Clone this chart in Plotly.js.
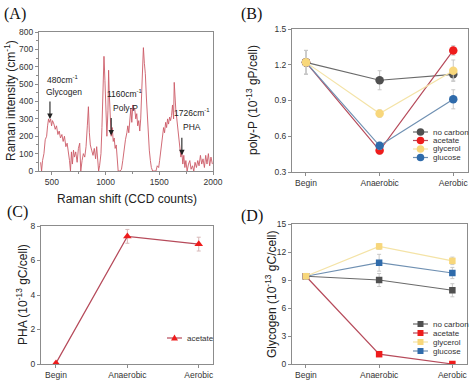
<!DOCTYPE html>
<html><head><meta charset="utf-8">
<script src="https://cdn.plot.ly/plotly-3.0.1.min.js"></script>
<style>html,body{margin:0;padding:0;background:#fff;}#chart{width:471px;height:382px;}</style>
</head><body><div id="chart"></div>
<script>
// ---- Panel A: Raman spectrum ----
const ramanShift = [395,404,413,426,438,451,460,469,478,488,497,506,519,531,543,556,568,580,593,605,617,630,642,654,664,673,682,691,701,710,722,735,747,759,769,781,793,806,818,830,840,849,858,870,883,895,907,917,926,935,944,957,966,975,985,994,1003,1012,1022,1028,1034,1043,1052,1062,1071,1080,1089,1099,1108,1117,1136,1148,1160,1173,1185,1198,1207,1216,1225,1235,1244,1253,1262,1271,1281,1290,1299,1309,1318,1327,1336,1346,1352,1361,1370,1380,1389,1398,1407,1417,1426,1438,1457,1469,1481,1494,1503,1512,1522,1531,1540,1549,1559,1568,1577,1586,1596,1605,1614,1623,1633,1639,1645,1654,1663,1673,1682,1691,1701,1710,1719,1728,1738,1747,1759,1772,1784,1796,1809,1821,1833,1846,1858,1870,1883,1895,1907,1920,1932,1944,1957,1969,1981,1994];
const ramanIntensity = [50,0,60,100,180,200,260,300,280,300,260,290,270,240,260,210,230,190,210,170,200,140,160,110,60,0,110,40,120,80,110,50,130,160,0,60,100,80,140,260,370,220,150,120,90,130,70,140,60,0,30,100,250,480,660,520,300,200,350,580,450,280,200,250,170,190,130,150,60,0,0,10,60,130,180,220,260,220,300,360,280,380,350,360,300,330,260,290,230,300,450,620,710,620,560,420,300,200,120,60,20,0,0,0,30,20,60,110,170,210,250,220,280,250,300,270,310,290,320,380,300,510,420,350,300,230,170,140,80,110,40,90,20,60,0,40,60,10,30,0,50,20,60,30,90,40,70,20,90,40,100,30,80,40];
const peakLabels = ['480cm<sup>-1</sup>','1160cm<sup>-1</sup>','1726cm<sup>-1</sup>'];
const peakNames = ['Glycogen','Poly-P','PHA'];
const peakArrowX = [482,1052,1710];
const peakArrowY = [300,205,90];

// ---- Panels B-D ----
const stages = ['Begin','Anaerobic','Aerobic'];
const carbonSources = ['no carbon','acetate','glycerol','glucose'];
const polyP_noCarbon = [1.22,1.07,1.12];
const polyP_acetate  = [1.22,0.48,1.32];
const polyP_glycerol = [1.22,0.79,1.15];
const polyP_glucose  = [1.22,0.52,0.91];
const polyPErr_noCarbon = [0.10,0.08,0.05];
const polyPErr_acetate  = [0.10,0.03,0.04];
const polyPErr_glycerol = [0.10,0.03,0.09];
const polyPErr_glucose  = [0.10,0.03,0.08];
const pha_acetate = [0.05,7.4,6.95];
const phaErr_acetate = [0.05,0.4,0.4];
const glycogen_noCarbon = [9.4,9.0,7.9];
const glycogen_acetate  = [9.4,1.05,0.0];
const glycogen_glycerol = [9.4,12.6,11.05];
const glycogen_glucose  = [9.4,10.85,9.75];
const glyErr_noCarbon = [0.3,0.7,0.7];
const glyErr_acetate  = [0.3,0.2,0.1];
const glyErr_glycerol = [0.3,0.3,0.4];
const glyErr_glucose  = [0.3,0.9,0.6];

const W = 471, H = 382;
const px = v => v / W, py = v => 1 - v / H;
const lineCols = ['#6a6a6a','#b64a5a','#f4e3a6','#6f90b2'];
const markCols = ['#505050','#ee1c1c','#f8d77b','#2f6bab'];
const drawOrder = [0, 1, 3, 2];
const FONT = 'Liberation Sans, Arial, sans-serif';
const tickFont = {family: FONT, size: 8.5, color: '#333'};

const polyP = [polyP_noCarbon, polyP_acetate, polyP_glycerol, polyP_glucose];
const polyPErr = [polyPErr_noCarbon, polyPErr_acetate, polyPErr_glycerol, polyPErr_glucose];
const glyco = [glycogen_noCarbon, glycogen_acetate, glycogen_glycerol, glycogen_glucose];
const glycoErr = [glyErr_noCarbon, glyErr_acetate, glyErr_glycerol, glyErr_glucose];

const traces = [];
traces.push({x: ramanShift, y: ramanIntensity, type: 'scatter', mode: 'lines',
  line: {color: '#cc5a66', width: 0.9}, xaxis: 'x', yaxis: 'y', showlegend: false, hoverinfo: 'skip'});

drawOrder.forEach(i => {
  traces.push({x: stages, y: polyP[i], name: carbonSources[i], type: 'scatter', mode: 'lines+markers',
    xaxis: 'x2', yaxis: 'y2', showlegend: false,
    line: {color: lineCols[i], width: 1.2},
    marker: {symbol: 'circle', size: 8.5, color: markCols[i]},
    error_y: {type: 'data', array: polyPErr[i], visible: true, color: '#c8c8c8', thickness: 1, width: 2}});
});
traces.push({x: stages, y: pha_acetate, name: 'acetate', type: 'scatter', mode: 'lines+markers',
  xaxis: 'x3', yaxis: 'y3', showlegend: false,
  line: {color: lineCols[1], width: 1.2},
  marker: {symbol: 'triangle-up', size: 7.5, color: markCols[1]},
  error_y: {type: 'data', array: phaErr_acetate, visible: true, color: '#d8b8b8', thickness: 1, width: 2}});
drawOrder.forEach(i => {
  traces.push({x: stages, y: glyco[i], name: carbonSources[i], type: 'scatter', mode: 'lines+markers',
    xaxis: 'x4', yaxis: 'y4', showlegend: false,
    line: {color: lineCols[i], width: 1.2},
    marker: {symbol: 'square', size: 6.5, color: markCols[i]},
    error_y: {type: 'data', array: glycoErr[i], visible: true, color: '#c8c8c8', thickness: 1, width: 2}});
});

function ax(extra) {
  return Object.assign({showline: true, mirror: true, linecolor: '#8c8c8c', linewidth: 1,
    ticks: 'outside', ticklen: 3, tickcolor: '#8c8c8c', zeroline: false, showgrid: false,
    tickfont: tickFont, fixedrange: true}, extra);
}

const annotations = [];
const shapes = [];
// panel labels
[['(A)',2,14],['(B)',239,14],['(C)',5,212],['(D)',239,216]].forEach(([t,x,y]) => {
  annotations.push({text: t, xref: 'paper', yref: 'paper', x: px(x), y: py(y), xanchor: 'left', yanchor: 'middle',
    showarrow: false, font: {family: 'Liberation Serif, Times New Roman, serif', size: 16, color: '#111'}});
});
// axis titles
const titleFont = {family: FONT, size: 12, color: '#222'};
annotations.push({text: 'Raman shift (CCD counts)', xref: 'paper', yref: 'paper', x: px(127), y: py(199),
  xanchor: 'center', yanchor: 'middle', showarrow: false, font: titleFont});
[['Raman intensity (cm<sup>-1</sup>)',10,101],['poly-P (10<sup>-13</sup> gP/cell)',252,100],
 ['PHA (10<sup>-13</sup> gC/cell)',22,295],['Glycogen (10<sup>-13</sup> gC/cell)',271,294]].forEach(([t,x,y]) => {
  annotations.push({text: t, xref: 'paper', yref: 'paper', x: px(x), y: py(y), textangle: -90,
    xanchor: 'center', yanchor: 'middle', showarrow: false, font: titleFont});
});
// peak annotations on panel A
const annFont = {family: FONT, size: 8.5, color: '#222'};
const labelPos = [[435,526,429,452],[994,446,1052,362],[1614,336,1700,252]];
peakLabels.forEach((t, i) => {
  const [x1,y1,x2,y2] = labelPos[i];
  annotations.push({text: t, xref: 'x', yref: 'y', x: x1, y: y1, xanchor: 'left', yanchor: 'middle', showarrow: false, font: annFont});
  annotations.push({text: peakNames[i], xref: 'x', yref: 'y', x: x2, y: y2, xanchor: 'left', yanchor: 'middle', showarrow: false, font: annFont});
  annotations.push({text: '', xref: 'x', yref: 'y', x: peakArrowX[i], y: peakArrowY[i], ax: 0, ay: -19,
    showarrow: true, arrowhead: 2, arrowsize: 1, arrowwidth: 1.1, arrowcolor: '#222'});
});
// manual compact legends
const legFont = {family: FONT, size: 8, color: '#333'};
function legendEntry(x0, y, lineCol, markCol, shape, text, r) {
  shapes.push({type: 'line', xref: 'paper', yref: 'paper', x0: px(x0), x1: px(x0 + 15), y0: py(y), y1: py(y),
    line: {color: lineCol, width: 1.2}});
  shapes.push({type: shape, xref: 'paper', yref: 'paper', x0: px(x0 + 7.5 - r), x1: px(x0 + 7.5 + r),
    y0: py(y - r), y1: py(y + r), fillcolor: markCol, line: {width: 0}});
  annotations.push({text, xref: 'paper', yref: 'paper', x: px(x0 + 18), y: py(y), xanchor: 'left', yanchor: 'middle',
    showarrow: false, font: legFont});
}
carbonSources.forEach((name, i) => legendEntry(413, 132 + 8.5 * i, lineCols[i], markCols[i], 'circle', name, 3.8));
carbonSources.forEach((name, i) => legendEntry(413, 324 + 9 * i, lineCols[i], markCols[i], 'rect', name, 3));
// acetate legend in C (triangle via path)
shapes.push({type: 'line', xref: 'paper', yref: 'paper', x0: px(167), x1: px(182), y0: py(338), y1: py(338),
  line: {color: lineCols[1], width: 1.2}});
shapes.push({type: 'path', xref: 'paper', yref: 'paper',
  path: `M ${px(174.5)} ${py(334.5)} L ${px(178)} ${py(340.5)} L ${px(171)} ${py(340.5)} Z`,
  fillcolor: markCols[1], line: {width: 0}});
annotations.push({text: 'acetate', xref: 'paper', yref: 'paper', x: px(185), y: py(338), xanchor: 'left', yanchor: 'middle',
  showarrow: false, font: legFont});

const layout = {
  width: W, height: H, margin: {l: 0, r: 0, t: 0, b: 0}, paper_bgcolor: '#fff', plot_bgcolor: '#fff',
  showlegend: false,
  xaxis: ax({domain: [px(39), px(213)], range: [380, 2000], tickvals: [500,1000,1500,2000], anchor: 'y',
    minor: {ticks: 'outside', ticklen: 2, dtick: 250, tickcolor: '#8c8c8c'}}),
  yaxis: ax({domain: [py(171), py(32)], range: [0, 800], dtick: 100, anchor: 'x',
    minor: {ticks: 'outside', ticklen: 2, dtick: 50, tickcolor: '#8c8c8c'}}),
  xaxis2: ax({domain: [px(292), px(468)], type: 'category', range: [-0.19, 2.2], anchor: 'y2'}),
  yaxis2: ax({domain: [py(172), py(29)], range: [0.3, 1.5], tickvals: [0.3,0.6,0.9,1.2,1.5], tickformat: '.1f', anchor: 'x2'}),
  xaxis3: ax({domain: [px(41), px(213)], type: 'category', range: [-0.21, 2.2], anchor: 'y3'}),
  yaxis3: ax({domain: [py(364), py(226)], range: [0, 8], dtick: 2, anchor: 'x3'}),
  xaxis4: ax({domain: [px(292), px(467)], type: 'category', range: [-0.19, 2.2], anchor: 'y4'}),
  yaxis4: ax({domain: [py(364), py(224)], range: [0, 15], dtick: 3, anchor: 'x4'}),
  annotations, shapes
};
Plotly.newPlot('chart', traces, layout, {staticPlot: true});
</script></body></html>
